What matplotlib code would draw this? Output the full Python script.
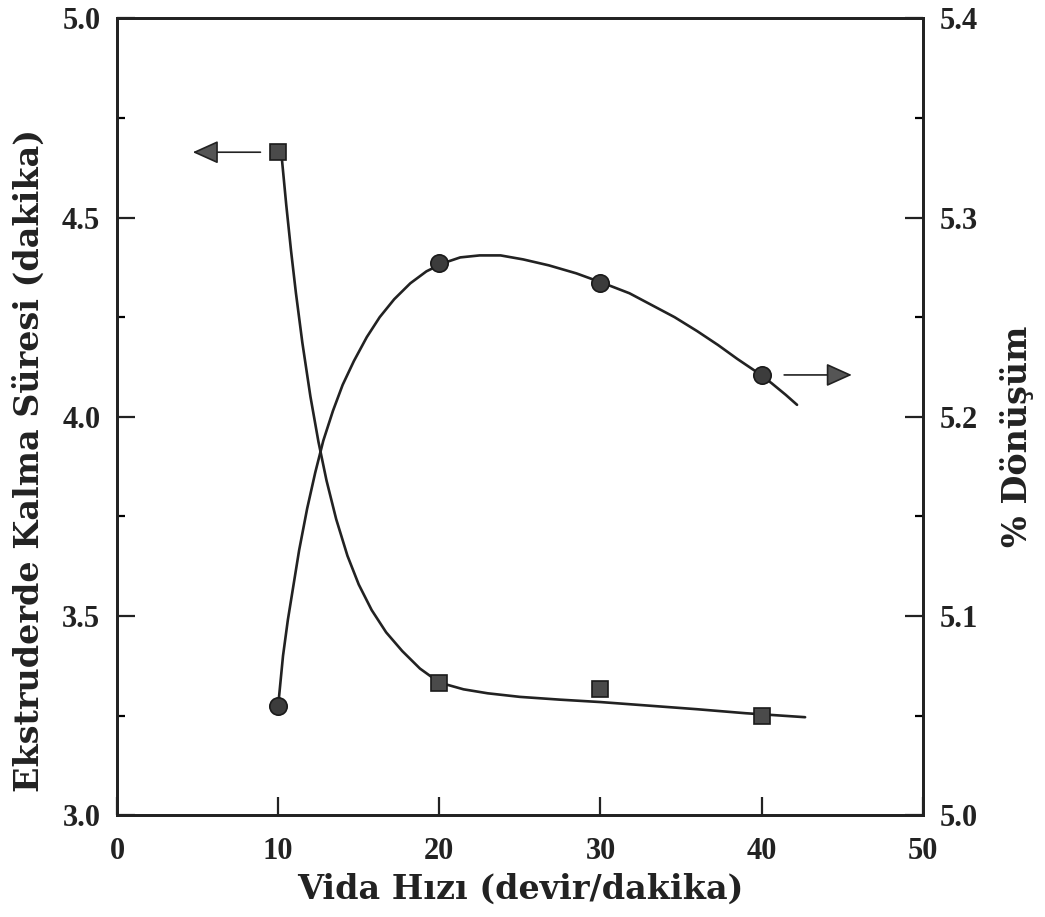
import numpy as np
import matplotlib.pyplot as plt
from matplotlib.ticker import MultipleLocator

# measured points
speed = [10, 20, 30, 40]
residence = [4.664, 3.331, 3.316, 3.250]     # left axis (dakika)
conversion = [5.055, 5.277, 5.267, 5.221]    # right axis (%)

# hand-drawn fit curves
res_curve_x = [10.2, 10.5, 10.8, 11.1, 11.5, 12.0, 12.5, 13.0, 13.6, 14.3, 15.0, 15.8,
               16.7, 17.7, 18.8, 20.0, 21.5, 23.0, 25.0, 27.5, 30.0, 33.0, 36.0, 39.0, 42.7]
res_curve_y = [4.660, 4.532, 4.416, 4.311, 4.186, 4.051, 3.937, 3.840, 3.743, 3.651, 3.579,
               3.515, 3.459, 3.412, 3.368, 3.333, 3.316, 3.306, 3.297, 3.290, 3.284, 3.275,
               3.266, 3.256, 3.246]
conv_curve_x = [10.0, 10.3, 10.6, 10.9, 11.3, 11.8, 12.3, 12.8, 13.4, 14.0, 14.7, 15.5,
                16.3, 17.2, 18.2, 19.2, 20.2, 21.3, 22.5, 23.8, 25.2, 26.8, 28.5, 30.2,
                31.8, 33.2, 34.6, 36.0, 37.3, 38.5, 39.6, 40.6, 41.5, 42.2]
conv_curve_y = [5.055, 5.080, 5.098, 5.113, 5.133, 5.154, 5.172, 5.188, 5.203, 5.216,
                5.228, 5.240, 5.250, 5.259, 5.267, 5.273, 5.277, 5.280, 5.281, 5.281,
                5.279, 5.276, 5.272, 5.267, 5.262, 5.256, 5.250, 5.243, 5.236, 5.229,
                5.223, 5.217, 5.211, 5.206]

xlabel = 'Vida Hızı (devir/dakika)'
ylabel_left = 'Ekstruderde Kalma Süresi (dakika)'
ylabel_right = '% Dönüşüm'

plt.rcParams['font.family'] = ['Liberation Serif', 'DejaVu Serif']
plt.rcParams['font.weight'] = 'bold'

ink = '#222222'
label_font = dict(family=['DejaVu Serif'], fontweight='bold', fontsize=24, color=ink)

fig = plt.figure(figsize=(10.45, 9.17), dpi=100)
ax = fig.add_axes([0.112, 0.111, 0.771, 0.869])
ax2 = ax.twinx()

# curves + markers
ax.plot(res_curve_x, res_curve_y, color=ink, lw=1.9, solid_joinstyle='round',
        solid_capstyle='round', zorder=2)
ax.plot(speed, residence, ls='none', marker='s', ms=11.5, mfc='#4a4a4a', mec='#1a1a1a',
        mew=1.2, zorder=3)
ax2.plot(conv_curve_x, conv_curve_y, color=ink, lw=1.9, solid_joinstyle='round',
         solid_capstyle='round', zorder=2)
ax2.plot(speed, conversion, ls='none', marker='o', ms=12.5, mfc='#3c3c3c', mec='#1a1a1a',
         mew=1.2, zorder=3)

# arrows pointing to the matching axis
arrow = dict(arrowstyle='-|>,head_length=0.8,head_width=0.36', mutation_scale=20,
             lw=1.2, color=ink, fc='#555555', shrinkA=0, shrinkB=0)
ax.annotate('', xy=(4.7, residence[0]), xytext=(8.9, residence[0]), arrowprops=arrow)
ax2.annotate('', xy=(45.6, conversion[3]), xytext=(41.4, conversion[3]), arrowprops=arrow)

ax.set_xlim(0, 50)
ax.set_ylim(3.0, 5.0)
ax2.set_ylim(5.0, 5.4)

ax.xaxis.set_major_locator(MultipleLocator(10))
ax.yaxis.set_major_locator(MultipleLocator(0.5))
ax.yaxis.set_minor_locator(MultipleLocator(0.25))
ax2.yaxis.set_major_locator(MultipleLocator(0.1))
ax2.yaxis.set_minor_locator(MultipleLocator(0.05))
ax.yaxis.set_major_formatter(lambda v, p: f'{v:.1f}')
ax2.yaxis.set_major_formatter(lambda v, p: f'{v:.1f}')

ax.tick_params(axis='x', which='both', direction='in', length=13, width=1.6, top=False,
               labelsize=22, pad=16, colors=ink)
ax.tick_params(axis='y', which='major', direction='in', length=13, width=1.6,
               labelsize=22, pad=12, colors=ink)
ax.tick_params(axis='y', which='minor', direction='in', length=6, width=1.6)
ax2.tick_params(axis='y', which='major', direction='in', length=13, width=1.6,
                labelsize=22, pad=12, colors=ink)
ax2.tick_params(axis='y', which='minor', direction='in', length=6, width=1.6)

for a in (ax, ax2):
    for s in a.spines.values():
        s.set_linewidth(2.0)
        s.set_color(ink)

ax.set_xlabel(xlabel, **label_font)
ax.xaxis.set_label_coords(0.5, -0.072)
ax.set_ylabel(ylabel_left, **label_font)
ax.yaxis.set_label_coords(-0.088, 0.445)
ax2.set_ylabel(ylabel_right, **label_font)
ax2.yaxis.set_label_coords(1.096, 0.475)

fig.savefig('out.png', dpi=100)
